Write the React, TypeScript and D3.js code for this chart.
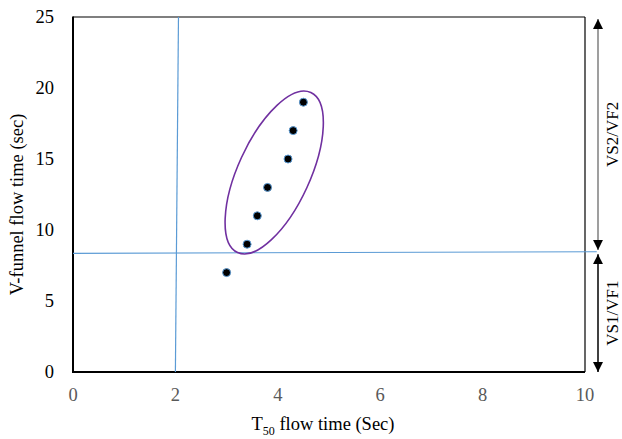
import React, { useEffect, useRef } from "react";
import * as d3 from "d3";

// T50 flow time (s) vs V-funnel flow time (s)
const t50 = [3.0, 3.4, 3.6, 3.8, 4.2, 4.3, 4.5];
const vFunnel = [7, 9, 11, 13, 15, 17, 19];
const xTicks = [0, 2, 4, 6, 8, 10];
const yTicks = [0, 5, 10, 15, 20, 25];
// boundary lines (approximate, as drawn in the original)
const vLine = [
  { x: 2.06, y: 25 },
  { x: 2.0, y: 0 },
];
const hLine = [
  { x: 0, y: 8.36 },
  { x: 10.23, y: 8.47 },
];
const classBreak = 8.4;
const classLabels = ["VS1/VF1", "VS2/VF2"];

const W = 622;
const H = 439;
const margin = { top: 17, right: 37, bottom: 67, left: 73 };

export default function App() {
  const ref = useRef<SVGSVGElement>(null);

  useEffect(() => {
    const svg = d3.select(ref.current);
    svg.selectAll("*").remove();
    const iw = W - margin.left - margin.right;
    const ih = H - margin.top - margin.bottom;

    const x = d3.scaleLinear().domain([0, 10]).range([margin.left, margin.left + iw]);
    const y = d3.scaleLinear().domain([0, 25]).range([margin.top + ih, margin.top]);

    const defs = svg.append("defs");
    defs
      .append("marker")
      .attr("id", "ah")
      .attr("viewBox", "0 0 10 10")
      .attr("refX", 10)
      .attr("refY", 5)
      .attr("markerWidth", 10)
      .attr("markerHeight", 10)
      .attr("markerUnits", "userSpaceOnUse")
      .attr("orient", "auto-start-reverse")
      .append("path")
      .attr("d", "M0,0 L10,5 L0,10 Z")
      .attr("fill", "#000");

    // frame
    svg
      .append("line")
      .attr("x1", x(0)).attr("x2", x(10))
      .attr("y1", y(25)).attr("y2", y(25))
      .attr("stroke", "#000").attr("stroke-width", 1.2);
    svg
      .append("line")
      .attr("x1", x(10)).attr("x2", x(10))
      .attr("y1", y(25)).attr("y2", y(0))
      .attr("stroke", "#000").attr("stroke-width", 1.2);
    svg
      .append("line")
      .attr("x1", x(0)).attr("x2", x(0))
      .attr("y1", y(25) - 0.5).attr("y2", y(0) + 1)
      .attr("stroke", "#000").attr("stroke-width", 2);
    svg
      .append("line")
      .attr("x1", x(0) - 1).attr("x2", x(10))
      .attr("y1", y(0)).attr("y2", y(0))
      .attr("stroke", "#000").attr("stroke-width", 2);

    // tick labels
    svg
      .selectAll(".yt")
      .data(yTicks)
      .enter()
      .append("text")
      .attr("x", x(0) - 19)
      .attr("y", (d) => y(d))
      .attr("dy", "0.35em")
      .attr("text-anchor", "end")
      .attr("font-family", "Liberation Serif, Times New Roman, serif")
      .attr("font-size", 18.5)
      .attr("fill", "#000")
      .text((d) => d);
    svg
      .selectAll(".xt")
      .data(xTicks)
      .enter()
      .append("text")
      .attr("x", (d) => x(d))
      .attr("y", y(0) + 23)
      .attr("dy", "0.35em")
      .attr("text-anchor", "middle")
      .attr("font-family", "Liberation Serif, Times New Roman, serif")
      .attr("font-size", 18.5)
      .attr("fill", "#595959")
      .text((d) => d);

    // axis titles
    const xt = svg
      .append("text")
      .attr("x", x(0) + iw / 2 - 6)
      .attr("y", y(0) + 58)
      .attr("text-anchor", "middle")
      .attr("font-family", "Liberation Serif, Times New Roman, serif")
      .attr("font-size", 18.5)
      .attr("fill", "#000");
    xt.append("tspan").text("T");
    xt.append("tspan").attr("font-size", 12).attr("dy", 5).text("50");
    xt.append("tspan").attr("dy", -5).text(" flow time (Sec)");

    svg
      .append("text")
      .attr("transform", `translate(23,${margin.top + ih / 2 + 10}) rotate(-90)`)
      .attr("text-anchor", "middle")
      .attr("font-family", "Liberation Serif, Times New Roman, serif")
      .attr("font-size", 18.5)
      .attr("fill", "#000")
      .text("V-funnel flow time (sec)");

    // boundary lines
    const line = d3
      .line<{ x: number; y: number }>()
      .x((d) => x(d.x))
      .y((d) => y(d.y));
    svg.append("path").attr("d", line(vLine)).attr("stroke", "#5b9bd5").attr("stroke-width", 1.2).attr("fill", "none");
    svg.append("path").attr("d", line(hLine)).attr("stroke", "#5b9bd5").attr("stroke-width", 1.2).attr("fill", "none");

    // ellipse around the VS2/VF2 points
    const cx = x(3.93);
    const cy = y(14.05);
    svg
      .append("ellipse")
      .attr("cx", cx)
      .attr("cy", cy)
      .attr("rx", 88)
      .attr("ry", 36)
      .attr("transform", `rotate(-65.4,${cx},${cy})`)
      .attr("fill", "none")
      .attr("stroke", "#7030a0")
      .attr("stroke-width", 1.6);

    // points
    svg
      .selectAll(".pt")
      .data(t50.map((t, i) => ({ x: t, y: vFunnel[i] })))
      .enter()
      .append("circle")
      .attr("cx", (d) => x(d.x))
      .attr("cy", (d) => y(d.y))
      .attr("r", 4)
      .attr("fill", "#000")
      .attr("stroke", "#5b9bd5")
      .attr("stroke-width", 1);

    // class arrows on the right
    const ax = x(10) + 13;
    const ranges = [
      [0, classBreak - 0.1],
      [classBreak + 0.2, 25],
    ];
    ranges.forEach((r, i) => {
      const top = i === 1 ? y(25) + 2 : y(r[1]);
      const bot = i === 1 ? y(r[0]) : y(0);
      svg
        .append("line")
        .attr("x1", ax).attr("x2", ax)
        .attr("y1", top).attr("y2", bot)
        .attr("stroke", i === 1 ? "#7f7f7f" : "#000")
        .attr("stroke-width", 1.5)
        .attr("marker-start", "url(#ah)")
        .attr("marker-end", "url(#ah)");
      svg
        .append("text")
        .attr("transform", `translate(${ax + 14},${(top + bot) / 2}) rotate(-90)`)
        .attr("text-anchor", "middle")
        .attr("dy", "0.35em")
        .attr("font-family", "Liberation Serif, Times New Roman, serif")
        .attr("font-size", 17)
        .attr("fill", "#000")
        .text(classLabels[i]);
    });
  }, []);

  return (
    <svg
      ref={ref}
      width={W}
      height={H}
      style={{ position: "absolute", left: 0, top: 0, background: "#fff" }}
    />
  );
}
